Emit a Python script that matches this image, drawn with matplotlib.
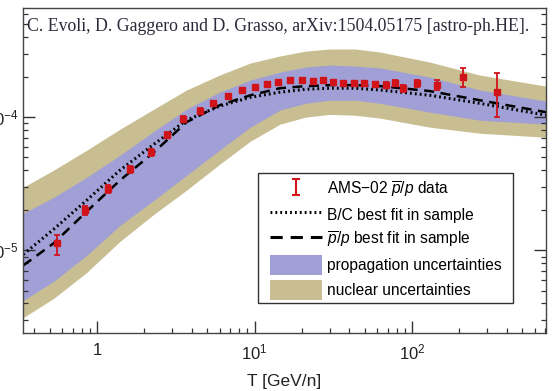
import matplotlib
matplotlib.use("Agg")
import matplotlib.pyplot as plt
from matplotlib.patches import Patch, Rectangle
import numpy as np

# --- okunan degerler (log-log eksenden) ---
T_grid = [0.34, 0.53, 0.86, 1.4, 2.3, 3.7, 6.0, 9.4, 14.5, 21, 30, 43.5, 63, 130, 270, 710]
nuc_up = [2.98e-5, 4.00e-5, 5.65e-5, 8.13e-5, 1.15e-4, 1.60e-4, 2.07e-4, 2.55e-4, 2.88e-4,
          3.13e-4, 3.25e-4, 3.25e-4, 3.08e-4, 2.59e-4, 2.07e-4, 1.71e-4]
prop_up = [1.90e-5, 2.50e-5, 3.54e-5, 5.18e-5, 7.85e-5, 1.15e-4, 1.54e-4, 1.90e-4, 2.18e-4,
           2.38e-4, 2.46e-4, 2.42e-4, 2.34e-4, 2.00e-4, 1.60e-4, 1.32e-4]
prop_lo = [4.21e-6, 5.85e-6, 9.17e-6, 1.54e-5, 2.38e-5, 3.66e-5, 5.65e-5, 8.41e-5, 1.13e-4,
           1.27e-4, 1.34e-4, 1.34e-4, 1.27e-4, 1.09e-4, 9.49e-5, 8.86e-5]
nuc_lo = [3.13e-6, 4.36e-6, 6.83e-6, 1.17e-5, 1.87e-5, 2.83e-5, 4.43e-5, 6.60e-5, 8.86e-5,
          1.00e-4, 1.05e-4, 1.035e-4, 9.83e-5, 8.41e-5, 7.58e-5, 7.07e-5]
bc_fit = [9.33e-6, 1.44e-5, 2.38e-5, 4.00e-5, 6.27e-5, 9.49e-5, 1.21e-4, 1.41e-4, 1.54e-4,
          1.62e-4, 1.65e-4, 1.65e-4, 1.60e-4, 1.46e-4, 1.27e-4, 1.035e-4]
pbar_fit = [7.71e-6, 1.13e-5, 1.96e-5, 3.36e-5, 5.46e-5, 9.17e-5, 1.23e-4, 1.46e-4, 1.65e-4,
            1.71e-4, 1.74e-4, 1.74e-4, 1.71e-4, 1.57e-4, 1.34e-4, 1.09e-4]

# AMS-02 pbar/p noktalari
T_ams = [0.56, 0.84, 1.17, 1.62, 2.2, 2.78, 3.52, 4.5, 5.45, 6.8, 8.3, 10.1, 12.0, 14.1, 16.8,
         20.0, 23.5, 27.2, 31.5, 36.5, 42.8, 49.6, 58.2, 68.4, 78, 88, 108, 144, 211, 347]
r_ams = [1.13e-5, 2.0e-5, 2.88e-5, 4.06e-5, 5.46e-5, 7.33e-5, 9.66e-5, 1.11e-4, 1.27e-4, 1.44e-4,
         1.60e-4, 1.68e-4, 1.77e-4, 1.83e-4, 1.90e-4, 1.90e-4, 1.87e-4, 1.90e-4, 1.83e-4, 1.80e-4,
         1.80e-4, 1.80e-4, 1.77e-4, 1.74e-4, 1.80e-4, 1.65e-4, 1.80e-4, 1.74e-4, 2.00e-4, 1.54e-4]
err_lo = [2.1e-6, 1.5e-6, 2.0e-6, 2.6e-6, 3.2e-6, 4.0e-6, 5.0e-6, 5.5e-6, 6.0e-6, 6.5e-6,
          7.0e-6, 7.0e-6, 7.0e-6, 7.0e-6, 7.5e-6, 7.5e-6, 7.5e-6, 7.5e-6, 7.5e-6, 7.5e-6,
          7.5e-6, 8.0e-6, 8.0e-6, 8.5e-6, 9.0e-6, 1.0e-5, 1.1e-5, 1.4e-5, 3.2e-5, 5.4e-5]
err_hi = [1.7e-6, 1.5e-6, 2.0e-6, 2.6e-6, 3.2e-6, 4.0e-6, 5.0e-6, 5.5e-6, 6.0e-6, 6.5e-6,
          7.0e-6, 7.0e-6, 7.0e-6, 7.0e-6, 7.5e-6, 7.5e-6, 7.5e-6, 7.5e-6, 7.5e-6, 7.5e-6,
          7.5e-6, 8.0e-6, 8.0e-6, 8.5e-6, 9.0e-6, 1.0e-5, 1.1e-5, 1.6e-5, 3.3e-5, 6.0e-5]

plt.rcParams['font.family'] = ['Liberation Sans', 'DejaVu Sans']
plt.rcParams['mathtext.fontset'] = 'custom'
plt.rcParams['mathtext.rm'] = 'Liberation Sans'
plt.rcParams['mathtext.it'] = 'Liberation Sans:italic'

W, H = 557, 391
fig = plt.figure(figsize=(W / 100, H / 100), dpi=100)
ax = fig.add_axes([23 / W, 58 / H, 523 / W, 325 / H])

khaki = '#c9be92'
lila = '#a09fd6'
kirmizi = '#d0141a'

ax.fill_between(T_grid, nuc_lo, nuc_up, color=khaki, lw=0)
ax.fill_between(T_grid, prop_lo, prop_up, color=lila, lw=0)
ax.plot(T_grid, bc_fit, color='black', ls=(0, (0.6, 1.0)), lw=2.2)
ax.plot(T_grid, pbar_fit, color='black', ls=(0, (4, 2.6)), lw=1.8)

ax.errorbar(T_ams, r_ams, yerr=[err_lo, err_hi], fmt='s', ms=4.3, color=kirmizi,
            ecolor=kirmizi, elinewidth=1.3, capsize=2.5, capthick=1.3)

ax.set_xscale('log')
ax.set_yscale('log')
ax.set_xlim(0.339, 709)
ax.set_ylim(2.4e-6, 6.6e-4)

ax.set_xticks([1, 10, 100])
ax.set_xticklabels(['1', '$10^1$', '$10^2$'])
ax.set_yticks([1e-5, 1e-4])
ax.set_yticklabels(['$10^{-5}$', '$10^{-4}$'])
ax.tick_params(which='both', direction='in', right=True, top=False, color='#333333',
               labelsize=12, labelcolor='#222222')
ax.tick_params(which='major', length=8.5, width=1.0)
ax.tick_params(which='minor', length=3.8, width=0.9)
ax.tick_params(axis='x', pad=7)
ax.tick_params(axis='y', pad=3)
for s in ax.spines.values():
    s.set_color('#444444')
    s.set_linewidth(1.0)

ax.set_xlabel('T [GeV/n]', fontsize=12.5, color='#222222', labelpad=8)

ax.text(0.007, 0.942, 'C. Evoli, D. Gaggero and D. Grasso, arXiv:1504.05175 [astro-ph.HE].',
        transform=ax.transAxes, family='Liberation Serif', fontsize=12.8, color='#2a2a3a',
        va='center', ha='left')

# lejant kutusu (cerceve ayri cizildi)
ax.add_patch(Rectangle((0.4493, 0.0923), 0.4876, 0.40, transform=ax.transAxes,
                       facecolor='white', edgecolor='#333333', lw=1.0, zorder=4.5))

h_ams = ax.errorbar([np.nan], [np.nan], yerr=[1], fmt='none', ecolor=kirmizi,
                    elinewidth=1.5, capsize=3, capthick=1.5)
h_bc, = ax.plot([], [], color='black', ls=(0, (0.6, 1.0)), lw=2.2)
h_pb, = ax.plot([], [], color='black', ls=(0, (4, 2.6)), lw=2.2)
h_pr = Patch(facecolor=lila, edgecolor='none')
h_nu = Patch(facecolor=khaki, edgecolor='none')
etiketler = [r'AMS$-$02 $\overline{p}/p$ data', 'B/C best fit in sample',
             r'$\overline{p}/p$ best fit in sample', 'propagation uncertainties',
             'nuclear uncertainties']
leg = ax.legend([h_ams, h_bc, h_pb, h_pr, h_nu], etiketler, loc='upper left',
                bbox_to_anchor=(0.4723, 0.4723), borderaxespad=0, borderpad=0,
                fontsize=11.2, handlelength=3.33, handleheight=1.6, handletextpad=0.32,
                labelspacing=0.32, frameon=False)
leg.set_zorder(5)

fig.savefig('out.png', dpi=100)
